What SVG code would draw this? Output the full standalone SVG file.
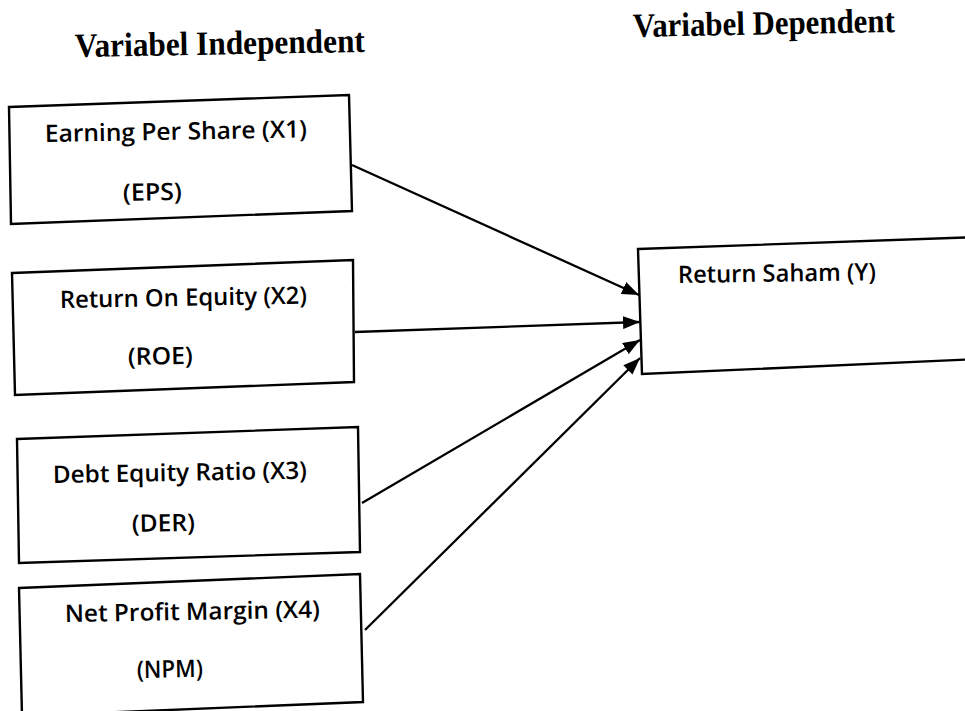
<svg xmlns="http://www.w3.org/2000/svg" width="965" height="711" viewBox="0 0 965 711">
<style>
.box{fill:#fff;stroke:#000;stroke-width:2.4;stroke-linejoin:miter}
.lbl{font-family:"Open Sans","Liberation Sans",sans-serif;font-size:24px;font-weight:600;fill:#000}
.hdr{font-family:"Liberation Serif","Times New Roman",serif;font-weight:bold;font-size:34px;fill:#000}
.conn{stroke:#000;stroke-width:2.3;fill:none}
</style>
<defs>
<marker id="arr" markerUnits="userSpaceOnUse" markerWidth="17" markerHeight="13" refX="17" refY="6.5" orient="auto">
<path d="M0,0 L17,6.5 L0,13 z" fill="#000"/>
</marker>
</defs>
<rect width="965" height="711" fill="#fff"/>
<g id="headers">
<text class="hdr" x="75" y="57" textLength="290" lengthAdjust="spacingAndGlyphs" transform="rotate(-1 75 57)">Variabel Independent</text>
<text class="hdr" x="633" y="37" textLength="262" lengthAdjust="spacingAndGlyphs" transform="rotate(-1.1 633 37)">Variabel Dependent</text>
</g>
<g id="eps">
<polygon class="box" points="9,107 349,95 352,211 11,224"/>
<text class="lbl" x="45" y="142" textLength="262" lengthAdjust="spacingAndGlyphs" transform="rotate(-1 45 142)">Earning Per Share (X1)</text>
<text class="lbl" x="123" y="201" textLength="59" lengthAdjust="spacingAndGlyphs" transform="rotate(-1 123 201)">(EPS)</text>
</g>
<g id="roe">
<polygon class="box" points="12,273 353,260 354,382 15,395"/>
<text class="lbl" x="60" y="308" textLength="247" lengthAdjust="spacingAndGlyphs" transform="rotate(-1 60 308)">Return On Equity (X2)</text>
<text class="lbl" x="128" y="365" textLength="65" lengthAdjust="spacingAndGlyphs" transform="rotate(-1 128 365)">(ROE)</text>
</g>
<g id="der">
<polygon class="box" points="17,439 358,427 360,552 19,563"/>
<text class="lbl" x="53" y="483" textLength="254" lengthAdjust="spacingAndGlyphs" transform="rotate(-1 53 483)">Debt Equity Ratio (X3)</text>
<text class="lbl" x="132" y="532" textLength="63" lengthAdjust="spacingAndGlyphs" transform="rotate(-1 132 532)">(DER)</text>
</g>
<g id="npm">
<polygon class="box" points="19,588 360,574 363,702 22,716"/>
<text class="lbl" x="65" y="622" textLength="255" lengthAdjust="spacingAndGlyphs" transform="rotate(-1 65 622)">Net Profit Margin (X4)</text>
<text class="lbl" x="137" y="678" textLength="66" lengthAdjust="spacingAndGlyphs" transform="rotate(-1 137 678)">(NPM)</text>
</g>
<g id="return-saham">
<polygon class="box" points="638,249 980,237 980,359 642,374"/>
<text class="lbl" x="678" y="283" textLength="198" lengthAdjust="spacingAndGlyphs" font-size="25" transform="rotate(-0.8 678 283)">Return Saham (Y)</text>
</g>
<g id="connectors">
<line class="conn" x1="352" y1="165" x2="639" y2="295" marker-end="url(#arr)"/>
<line class="conn" x1="355" y1="332" x2="640" y2="322" marker-end="url(#arr)"/>
<line class="conn" x1="362" y1="503" x2="640" y2="340" marker-end="url(#arr)"/>
<line class="conn" x1="365" y1="630" x2="640" y2="358" marker-end="url(#arr)"/>
</g>
</svg>
